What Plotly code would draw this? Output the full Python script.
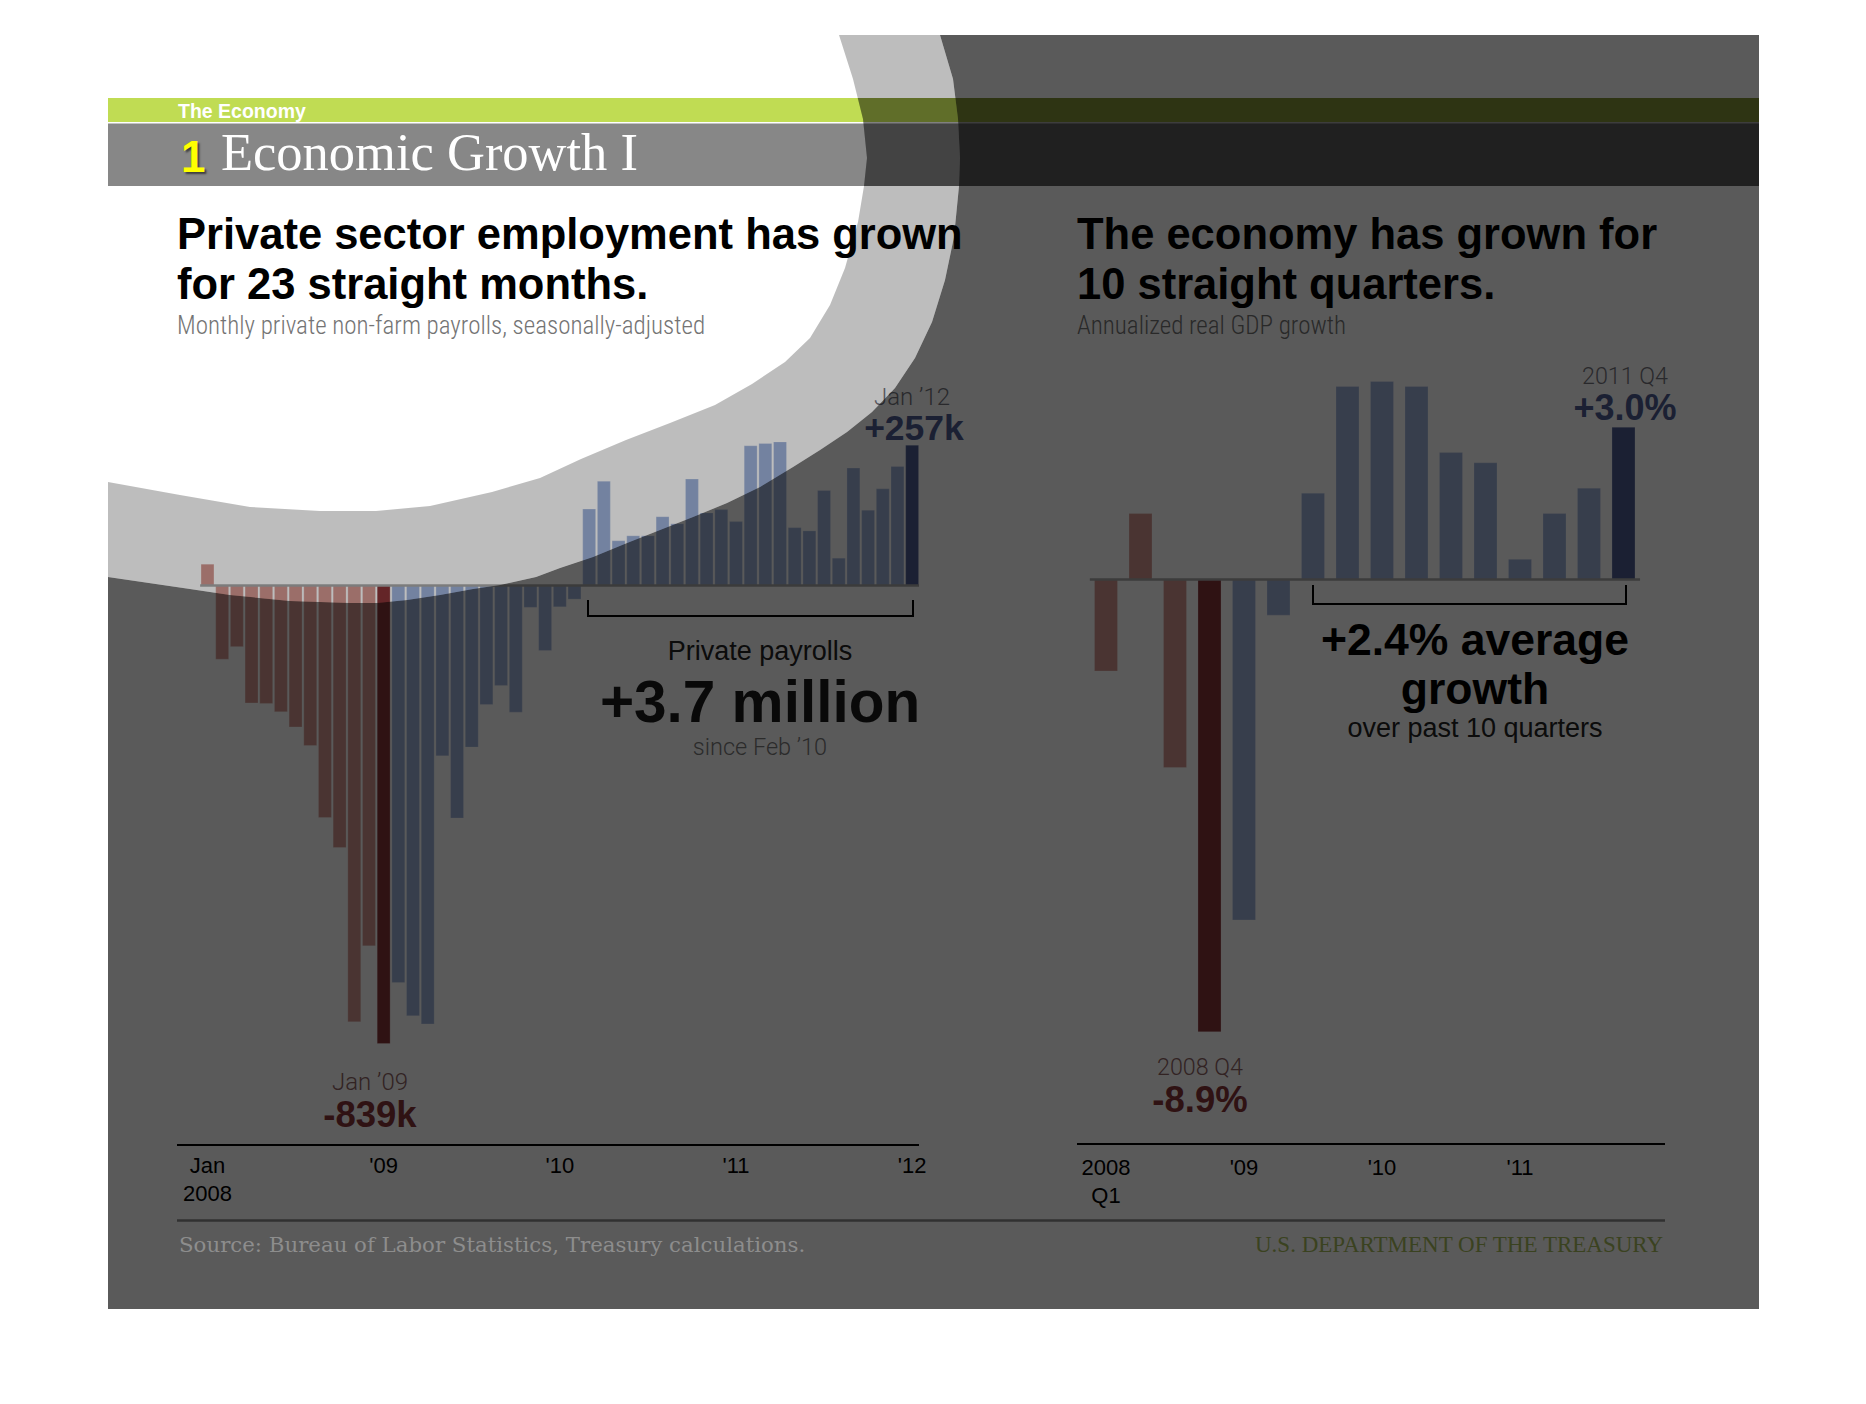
import plotly.graph_objects as go

W, H = 1866, 1404          # page coordinate system used for layout geometry
FIG_W = 1873               # rendered width (compensates the capture's horizontal rescale)

# ---------------- data ----------------
# Monthly change in private non-farm payrolls (thousands), Jan 2008 .. Jan 2012
payroll_values = [
    39, -135, -112, -215, -216, -231, -259, -293, -425, -480, -799, -660,      # 2008
    -839, -727, -788, -803, -312, -426, -296, -218, -183, -232, -40, -119,     # 2009
    -39, -25, 140, 191, 82, 91, 91, 126, 113, 195, 133, 139,                   # 2010
    117, 256, 260, 263, 106, 100, 174, 50, 215, 138, 177, 218,                 # 2011
    257,                                                                      # Jan 2012
]
payroll_tick_pos = [0, 12, 24, 36, 48]
payroll_tick_labels = ["Jan<br>2008", "'09", "'10", "'11", "'12"]

# Annualized real GDP growth (%), 2008 Q1 .. 2011 Q4
gdp_values = [-1.8, 1.3, -3.7, -8.9, -6.7, -0.7, 1.7, 3.8, 3.9, 3.8, 2.5, 2.3, 0.4, 1.3, 1.8, 3.0]
gdp_tick_pos = [0, 4, 8, 12]
gdp_tick_labels = ["2008<br>Q1", "'09", "'10", "'11"]

# ---------------- styles ----------------
RED, RED_HI, BLUE, NAVY = "#d1958e", "#873337", "#9cb0d8", "#4d5b91"
GREEN, TITLEBAR = "#c0dc53", "#878787"
SANS = "Liberation Sans, Arial, sans-serif"
LIGHT = "Roboto, Liberation Sans, sans-serif"
COND = "Roboto Condensed, Liberation Sans Narrow, Roboto, sans-serif"
SERIF = "Liberation Serif, serif"
SERIF_WIDE = "DejaVu Serif, Liberation Serif, serif"

n_pay = len(payroll_values)
pay_colors = [RED] * 12 + [RED_HI] + [BLUE] * (n_pay - 14) + [NAVY]
n_gdp = len(gdp_values)
gdp_colors = [RED] * 3 + [RED_HI] + [BLUE] * (n_gdp - 5) + [NAVY]

fig = go.Figure()
edge = dict(width=1, color="rgba(255,255,255,0.25)")
fig.add_trace(go.Bar(x=list(range(n_pay)), y=payroll_values, width=0.88,
                     marker=dict(color=pay_colors, line=edge),
                     xaxis="x", yaxis="y", hoverinfo="skip"))
fig.add_trace(go.Bar(x=list(range(n_gdp)), y=gdp_values, width=0.667,
                     marker=dict(color=gdp_colors, line=edge),
                     xaxis="x2", yaxis="y2", hoverinfo="skip"))


def txt(x, y, s, size, color, family=SANS, weight=400, pos="middle right", shadow=None, dy=0.12):
    font = dict(family=family, size=size, color=color, weight=weight)
    if shadow:
        font["shadow"] = shadow
    fig.add_trace(go.Scatter(x=[x], y=[y + dy * size], mode="text", text=[s], textposition=pos,
                             textfont=font, xaxis="x3", yaxis="y3",
                             hoverinfo="skip", cliponaxis=False))


# header
txt(178, 112, "<b>The Economy</b>", 19.5, "white", dy=0.05)
txt(181, 156, "<b>1</b>", 44, "#ffff00", shadow="2px 2px 2px rgba(0,0,0,0.55)")
txt(221, 153, "Economic Growth I", 52.5, "white", family=SERIF, dy=0.08)

# titles
txt(177, 233, "<b>Private sector employment has grown</b>", 43.5, "black")
txt(177, 283, "<b>for 23 straight months.</b>", 43.5, "black")
txt(177, 325, "Monthly private non-farm payrolls, seasonally-adjusted", 25, "#747474", family=COND, weight=300)
txt(1077, 233, "<b>The economy has grown for</b>", 43.5, "black")
txt(1077, 283, "<b>10 straight quarters.</b>", 43.5, "black")
txt(1077, 325, "Annualized real GDP growth", 25, "#747474", family=COND, weight=300)

# left chart callouts
txt(912, 396, "Jan \u201912", 24, "#76767e", family=LIGHT, weight=300, pos="middle center")
txt(914, 427, "<b>+257k</b>", 35.5, NAVY, pos="middle center")
txt(760, 650, "Private payrolls", 27, "#222222", pos="middle center")
txt(760, 700, "<b>+3.7 million</b>", 58.5, "#1c1c1c", pos="middle center")
txt(760, 746, "since Feb \u201910", 23.5, "#7a7a7a", family=LIGHT, weight=300, pos="middle center")
txt(370, 1081, "Jan \u201909", 24, "#8e6363", family=LIGHT, weight=300, pos="middle center")
txt(370, 1113, "<b>-839k</b>", 36.5, RED_HI, pos="middle center")

# right chart callouts
txt(1625, 375, "2011 Q4", 23.3, "#76767e", family=LIGHT, weight=300, pos="middle center")
txt(1625, 407, "<b>+3.0%</b>", 36, NAVY, pos="middle center")
txt(1475, 639, "<b>+2.4% average</b>", 44.5, "black", pos="middle center")
txt(1475, 688, "<b>growth</b>", 44.5, "black", pos="middle center")
txt(1475, 727, "over past 10 quarters", 27, "#222222", pos="middle center")
txt(1200, 1066, "2008 Q4", 23.3, "#8e6363", family=LIGHT, weight=300, pos="middle center")
txt(1200, 1098, "<b>-8.9%</b>", 36.5, RED_HI, pos="middle center")

# ---------------- shapes ----------------
def path(pts, close=True):
    s = "M " + " L ".join(f"{x},{y}" for x, y in pts)
    return s + (" Z" if close else "")


shapes = []
pg = dict(xref="x3", yref="y3")
# header bars
shapes.append(dict(type="rect", x0=108, x1=1759, y0=98, y1=122, fillcolor=GREEN, line_width=0, layer="below", **pg))
shapes.append(dict(type="rect", x0=108, x1=1759, y0=123.5, y1=186, fillcolor=TITLEBAR, line_width=0, layer="below", **pg))
# zero lines
shapes.append(dict(type="line", xref="x", yref="y", x0=-0.5, x1=n_pay - 0.5, y0=0, y1=0,
                   line=dict(color="#a8a8a8", width=2.5), layer="above"))
shapes.append(dict(type="line", xref="x2", yref="y2", x0=-0.47, x1=n_gdp - 0.52, y0=0, y1=0,
                   line=dict(color="#aaaaaa", width=2.5), layer="above"))
# brackets
shapes.append(dict(type="path", path=path([(588, 600), (588, 616), (913, 616), (913, 600)], False),
                   line=dict(color="black", width=2), layer="above", **pg))
shapes.append(dict(type="path", path=path([(1313, 585), (1313, 604), (1626, 604), (1626, 585)], False),
                   line=dict(color="black", width=2), layer="above", **pg))
# footer rule
shapes.append(dict(type="line", x0=177, x1=1665, y0=1220.5, y1=1220.5,
                   line=dict(color="#8a8a8a", width=2.5), layer="above", **pg))

# curved overlay (page-turn shading)
white_edge = [(839, 35), (853, 79), (863, 119), (867, 158), (864, 186), (858, 222), (845, 268),
              (830, 305), (810, 338), (785, 362), (752, 384), (715, 405), (670, 423), (626, 440),
              (581, 459), (540, 478), (492, 492), (430, 506), (376, 511), (320, 511), (250, 507),
              (180, 495), (108, 482)]
dark_edge = [(940, 35), (953, 79), (958, 119), (960, 158), (959, 186), (954, 237), (945, 280),
             (932, 322), (915, 358), (895, 388), (872, 412), (847, 432), (820, 450), (793, 467),
             (760, 487), (727, 503), (693, 517), (660, 530), (627, 543), (593, 557), (560, 568),
             (536, 577), (500, 585), (473, 589), (440, 595), (407, 600), (377, 603), (350, 603),
             (290, 601), (230, 595), (190, 589), (108, 577)]
band = white_edge + dark_edge[::-1]
dark = [(940, 35), (1759, 35), (1759, 1309), (108, 1309)] + dark_edge[::-1][:-1]
header_dim = [(857.75, 98), (1759, 98), (1759, 186), (864, 186), (867, 158), (863, 119)]
shapes.append(dict(type="path", path=path(header_dim), fillcolor="rgba(0,0,0,0.32)", line_width=0, layer="above", **pg))
shapes.append(dict(type="path", path=path(band), fillcolor="rgba(0,0,0,0.259)", line_width=0, layer="above", **pg))
shapes.append(dict(type="path", path=path(dark), fillcolor="rgba(0,0,0,0.647)", line_width=0, layer="above", **pg))

annotations = [
    dict(text="Source: Bureau of Labor Statistics, Treasury calculations.", x=177, y=1244,
         xanchor="left", yanchor="middle", showarrow=False,
         font=dict(family=SERIF_WIDE, size=21.3, color="#8d8d8d", weight=300), **pg),
    dict(text="U.S. DEPARTMENT OF THE TREASURY", x=1665, y=1244,
         xanchor="right", yanchor="middle", showarrow=False,
         font=dict(family=SERIF, size=23, color="#3a4220"), **pg),
]

# axis geometry (page pixels)
pay_c0, pay_step = 207.5, 14.68
gdp_c0, gdp_step = 1106.0, 34.5
pay_zero, pay_scale = 585.5, 0.546
gdp_zero, gdp_scale = 579.6, 50.8

tickfont = dict(family=SANS, size=22, color="black")
fig.update_layout(
    width=FIG_W, height=H, margin=dict(l=0, r=0, t=0, b=0),
    paper_bgcolor="white", plot_bgcolor="rgba(0,0,0,0)",
    showlegend=False, hovermode=False, bargap=0,
    xaxis=dict(domain=[177 / W, 919 / W], anchor="y",
               range=[(177 - pay_c0) / pay_step, (919 - pay_c0) / pay_step],
               tickvals=payroll_tick_pos, ticktext=payroll_tick_labels, tickfont=tickfont,
               ticks="", showline=True, linecolor="black", linewidth=2.5,
               showgrid=False, zeroline=False, ticklabelstandoff=0),
    yaxis=dict(domain=[1 - 1143.6 / H, 1 - 400 / H], anchor="x",
               range=[-(1143.6 - pay_zero) / pay_scale, (pay_zero - 400) / pay_scale],
               visible=False, showgrid=False, zeroline=False),
    xaxis2=dict(domain=[1077 / W, 1665 / W], anchor="y2",
                range=[(1077 - gdp_c0) / gdp_step, (1665 - gdp_c0) / gdp_step],
                tickvals=gdp_tick_pos, ticktext=gdp_tick_labels, tickfont=tickfont,
                ticks="", showline=True, linecolor="black", linewidth=2.5,
                showgrid=False, zeroline=False, ticklabelstandoff=3),
    yaxis2=dict(domain=[1 - 1142.7 / H, 1 - 380 / H], anchor="x2",
                range=[-(1142.7 - gdp_zero) / gdp_scale, (gdp_zero - 380) / gdp_scale],
                visible=False, showgrid=False, zeroline=False),
    xaxis3=dict(domain=[0, 1], anchor="y3", range=[0, W], visible=False, fixedrange=True),
    yaxis3=dict(domain=[0, 1], anchor="x3", range=[H, 0], visible=False, fixedrange=True),
    shapes=shapes, annotations=annotations,
)

fig.write_html(
    "out.html",
    config={"displayModeBar": False, "responsive": False, "staticPlot": True},
    post_script=("document.documentElement.style.overflow='hidden';"
                 "document.body.style.margin='0px';"
                 "document.body.style.overflow='hidden';"),
)
